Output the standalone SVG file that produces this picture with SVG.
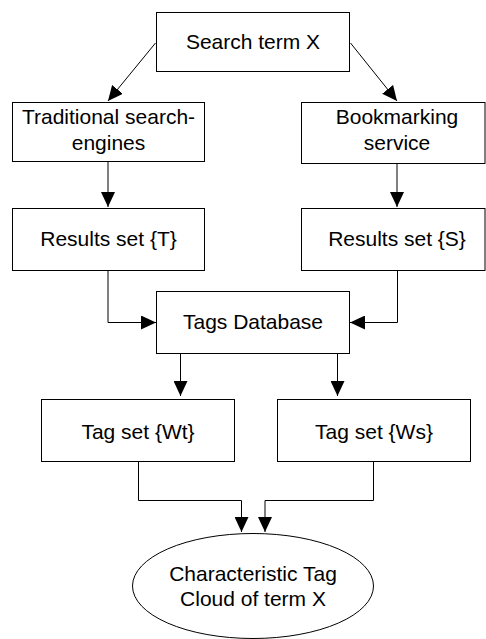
<svg xmlns="http://www.w3.org/2000/svg" width="486" height="639" viewBox="0 0 486 639">
  <style>
    .box { fill: #ffffff; stroke: #000000; stroke-width: 1; }
    .lbl { font-family: "Liberation Sans", Arial, sans-serif; font-size: 21px; fill: #000000; text-anchor: middle; }
    .edge { fill: none; stroke: #000000; stroke-width: 1; marker-end: url(#arrow); }
  </style>
  <defs>
    <marker id="arrow" markerUnits="userSpaceOnUse" markerWidth="15" markerHeight="14" refX="15" refY="7" orient="auto">
      <path d="M0,0 L15,7 L0,14 z" fill="#000000"/>
    </marker>
  </defs>
  <rect width="486" height="639" fill="#ffffff"/>

  <g id="connectors">
    <path class="edge" d="M155.5,43 L108,101"/>
    <path class="edge" d="M350.5,43 L397,101"/>
    <path class="edge" d="M108,162 L108,207"/>
    <path class="edge" d="M397,164 L397,207"/>
    <path class="edge" d="M108,271 L108,322.5 L156,322.5"/>
    <path class="edge" d="M397.5,271 L397.5,322.5 L350,322.5"/>
    <path class="edge" d="M180.5,353 L180.5,396"/>
    <path class="edge" d="M337.5,353 L337.5,396"/>
    <path class="edge" d="M138.5,462 L138.5,500.5 L241.5,500.5 L241.5,532"/>
    <path class="edge" d="M373.5,462 L373.5,500.5 L265,500.5 L265,532"/>
  </g>

  <g id="search-term">
    <rect class="box" x="156.5" y="12.5" width="193" height="59"/>
    <text class="lbl" x="253" y="49">Search term X</text>
  </g>
  <g id="traditional">
    <rect class="box" x="12.5" y="102.5" width="192" height="59"/>
    <text class="lbl" x="108.5" y="124">Traditional search-</text>
    <text class="lbl" x="108.5" y="150">engines</text>
  </g>
  <g id="bookmarking">
    <rect class="box" x="301.5" y="102.5" width="183.5" height="61"/>
    <text class="lbl" x="397" y="124">Bookmarking</text>
    <text class="lbl" x="397" y="150">service</text>
  </g>
  <g id="results-t">
    <rect class="box" x="12.5" y="208.5" width="192" height="62"/>
    <text class="lbl" x="108.5" y="246">Results set {T}</text>
  </g>
  <g id="results-s">
    <rect class="box" x="301.5" y="208.5" width="183.5" height="62"/>
    <text class="lbl" x="397" y="246">Results set {S}</text>
  </g>
  <g id="tags-db">
    <rect class="box" x="156.5" y="291.5" width="193" height="62"/>
    <text class="lbl" x="253" y="329">Tags Database</text>
  </g>
  <g id="tag-set-wt">
    <rect class="box" x="41.5" y="399.5" width="193" height="62"/>
    <text class="lbl" x="138" y="439">Tag set {Wt}</text>
  </g>
  <g id="tag-set-ws">
    <rect class="box" x="277.5" y="399.5" width="193" height="62"/>
    <text class="lbl" x="374" y="439">Tag set {Ws}</text>
  </g>
  <g id="tag-cloud">
    <ellipse class="box" cx="253" cy="586" rx="120.5" ry="52.5"/>
    <text class="lbl" x="253" y="581">Characteristic Tag</text>
    <text class="lbl" x="253" y="606">Cloud of term X</text>
  </g>
</svg>
